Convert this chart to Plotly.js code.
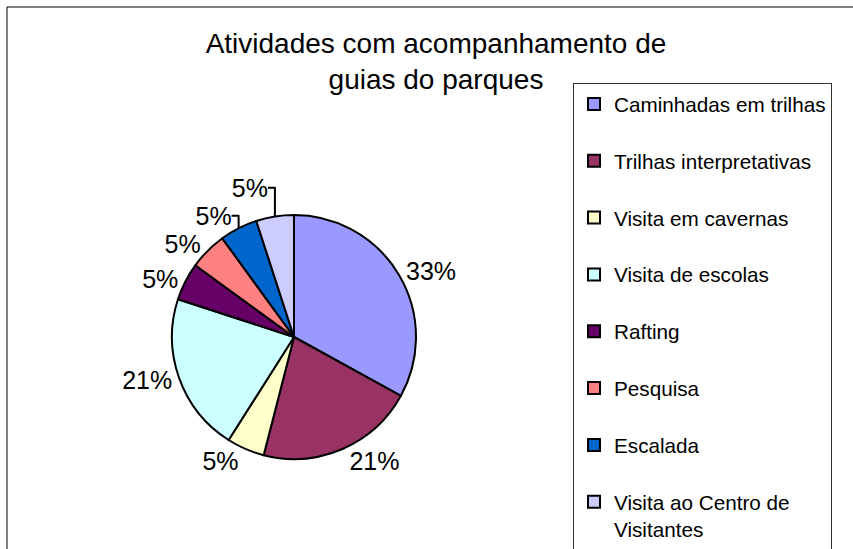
<!DOCTYPE html>
<html>
<head>
<meta charset="utf-8">
<script src="https://cdn.plot.ly/plotly-3.0.1.min.js"></script>
<style>html,body{margin:0;padding:0;background:#fff;}#chart{width:853px;height:549px;}</style>
</head>
<body>
<div id="chart"></div>
<script>
const categories = [
  "Caminhadas em trilhas",
  "Trilhas interpretativas",
  "Visita em cavernas",
  "Visita de escolas",
  "Rafting",
  "Pesquisa",
  "Escalada",
  "Visita ao Centro de Visitantes"
];
const values = [33, 21, 5, 21, 5, 5, 5, 5];
const colors = ["#9999FF", "#993366", "#FFFFCC", "#CCFFFF", "#660066", "#FF8080", "#0066CC", "#CCCCFF"];

// legend labels: long name wrapped, extra blank line for Excel-like spacing
const legendLabels = categories.map(c =>
  c === "Visita ao Centro de Visitantes" ? "Visita ao Centro de<br>Visitantes" : c + "<br> "
);

const W = 853, H = 549;
const FONT = "Liberation Sans, Arial, sans-serif";
const trace = {
  type: "pie",
  labels: legendLabels,
  values: values,
  sort: false,
  direction: "clockwise",
  rotation: 0,
  marker: { colors: colors, line: { color: "#000000", width: 2 } },
  texttemplate: "%{percent:.0%}",
  textposition: "outside",
  outsidetextfont: { family: FONT, size: 25, color: "#000" },
  hoverinfo: "label+percent",
  domain: { x: [172 / W, 416 / W], y: [1 - 459 / H, 1 - 215 / H] }
};

const layout = {
  width: W, height: H,
  margin: { l: 0, r: 0, t: 0, b: 0, autoexpand: false },
  paper_bgcolor: "#ffffff",
  font: { family: FONT, color: "#000" },
  title: {
    text: "Atividades com acompanhamento de<br>guias do parques",
    font: { family: FONT, size: 28, color: "#000" },
    x: 436 / W, xanchor: "center", xref: "paper",
    y: 1 - 53 / H, yanchor: "top", yref: "container"
  },
  showlegend: true,
  legend: {
    x: 573 / W, xanchor: "left", xref: "paper",
    y: 1 - 83 / H, yanchor: "top", yref: "paper",
    bordercolor: "#333333", borderwidth: 1,
    bgcolor: "#ffffff",
    valign: "top",
    maxheight: 549,
    font: { family: FONT, size: 20.7, color: "#000" }
  },
  shapes: [{
    type: "rect", xref: "paper", yref: "paper",
    x0: 7 / W, x1: 1.02, y0: -0.02, y1: 1 - 7 / H,
    line: { color: "#000000", width: 1 }
  }]
};

Plotly.newPlot("chart", [trace], layout, { displayModeBar: false, staticPlot: true });
</script>
</body>
</html>
